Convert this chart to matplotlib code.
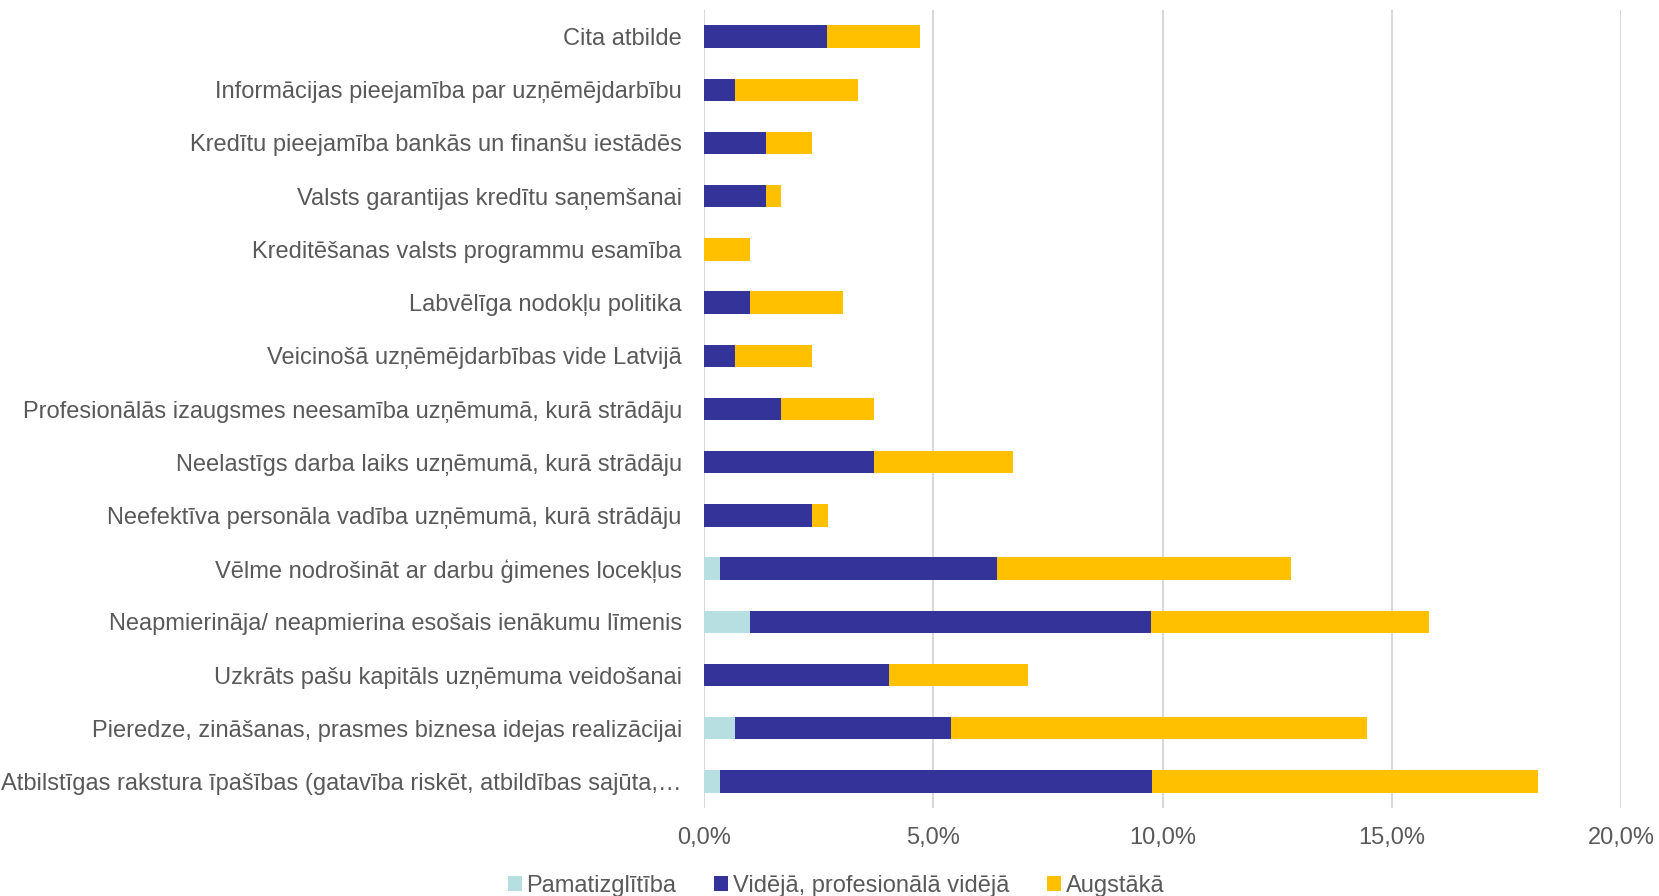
import matplotlib
matplotlib.use("Agg")
import matplotlib.pyplot as plt
from matplotlib import font_manager
from matplotlib.ticker import FuncFormatter
import numpy as np

categories = [
    "Cita atbilde",
    "Informācijas pieejamība par uzņēmējdarbību",
    "Kredītu pieejamība bankās un finanšu iestādēs",
    "Valsts garantijas kredītu saņemšanai",
    "Kreditēšanas valsts programmu esamība",
    "Labvēlīga nodokļu politika",
    "Veicinošā uzņēmējdarbības vide Latvijā",
    "Profesionālās izaugsmes neesamība uzņēmumā, kurā strādāju",
    "Neelastīgs darba laiks uzņēmumā, kurā strādāju",
    "Neefektīva personāla vadība uzņēmumā, kurā strādāju",
    "Vēlme nodrošināt ar darbu ģimenes locekļus",
    "Neapmierināja/ neapmierina esošais ienākumu līmenis",
    "Uzkrāts pašu kapitāls uzņēmuma veidošanai",
    "Pieredze, zināšanas, prasmes biznesa idejas realizācijai",
    "Atbilstīgas rakstura īpašības (gatavība riskēt, atbildības sajūta,…",
]
series_names = ["Pamatizglītība", "Vidējā, profesionālā vidējā", "Augstākā"]
pamat = [0, 0, 0, 0, 0, 0, 0, 0, 0, 0, 0.34, 1.01, 0, 0.67, 0.34]
videja = [2.69, 0.67, 1.35, 1.35, 0, 1.01, 0.67, 1.68, 3.70, 2.36, 6.06, 8.75, 4.04, 4.71, 9.43]
augstaka = [2.02, 2.69, 1.01, 0.34, 1.01, 2.02, 1.68, 2.02, 3.03, 0.34, 6.40, 6.06, 3.03, 9.09, 8.42]
xticks = [0, 5, 10, 15, 20]
colors = ["#b7dfe2", "#333399", "#ffc000"]

avail = {f.name for f in font_manager.fontManager.ttflist}
if "Liberation Sans Narrow" in avail:
    fam = ["Liberation Sans Narrow", "Liberation Sans", "DejaVu Sans"]
    fs = 20.5
else:
    fam = ["Liberation Sans", "DejaVu Sans"]
    fs = 17
plt.rcParams["font.family"] = fam

fig = plt.figure(figsize=(16.59, 8.96), dpi=100)
ax = fig.add_axes([704 / 1659, 1 - 808 / 896, (1621 - 704) / 1659, (808 - 10) / 896])

y = np.arange(len(categories))
left = np.zeros(len(categories))
for vals, name, c in zip([pamat, videja, augstaka], series_names, colors):
    v = np.array(vals, dtype=float)
    ax.barh(y, v, left=left, height=0.42, color=c, label=name, zorder=3)
    left += v

ax.set_xlim(0, 20)
ax.set_ylim(len(categories) - 0.5, -0.5)
ax.set_xticks(xticks)
ax.xaxis.set_major_formatter(FuncFormatter(lambda v, p: f"{v:.1f}%".replace(".", ",")))
ax.set_yticks(y)
ax.set_yticklabels(categories)
ax.grid(axis="x", color="#d9d9d9", linewidth=1.5, zorder=0)
ax.set_axisbelow(True)
for s in ax.spines.values():
    s.set_visible(False)
ax.tick_params(axis="both", length=0, labelsize=fs, labelcolor="#595959")
ax.tick_params(axis="y", pad=16)
ax.tick_params(axis="x", pad=14)

fig.legend(loc="center", bbox_to_anchor=(0.504, 0.011), ncol=3, frameon=False,
           fontsize=fs, labelcolor="#595959", handlelength=0.6, handleheight=0.6,
           handletextpad=0.2, columnspacing=1.6, borderaxespad=0)

fig.savefig("out.png", dpi=100)
